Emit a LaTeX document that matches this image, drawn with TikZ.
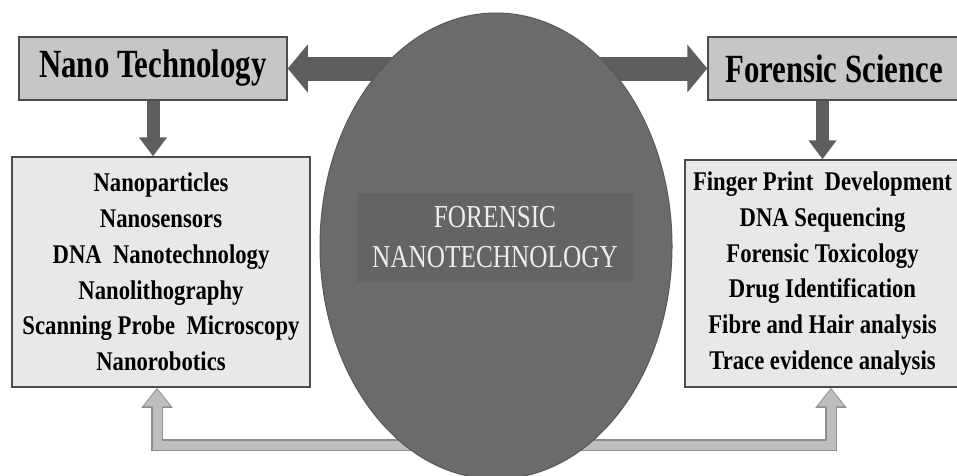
\documentclass[tikz,border=0pt]{standalone}
\usepackage{fontspec}
\setmainfont{Liberation Serif}
\newfontfamily\hdfont[FakeStretch=0.77]{Liberation Serif}
\newfontfamily\lsfont[FakeStretch=0.84]{Liberation Serif}
\newfontfamily\ctfont[FakeStretch=0.79]{Liberation Serif}
\usetikzlibrary{arrows.meta,shapes.geometric}
\definecolor{hdfill}{HTML}{C6C6C6}
\definecolor{lsfill}{HTML}{E8E8E8}
\definecolor{bordc}{HTML}{4C4C4C}
\definecolor{ellc}{HTML}{6B6B6B}
\definecolor{ellbord}{HTML}{585858}
\definecolor{rectc}{HTML}{646464}
\definecolor{darr}{HTML}{5E5E5E}
\definecolor{larrfill}{HTML}{BEBEBE}
\definecolor{larrbord}{HTML}{8E8E8E}
\definecolor{ctext}{HTML}{EDEDED}
\begin{document}
\begin{tikzpicture}[x=1pt,y=-1pt,
  hdbox/.style={draw=bordc, line width=1.5pt, fill=hdfill, inner sep=0pt,
    font={\hdfont\bfseries\fontsize{40}{44}\selectfont}},
  lsbox/.style={draw=bordc, line width=1.5pt, fill=lsfill, inner sep=0pt, align=center,
    font={\lsfont\bfseries\fontsize{27}{35.8}\selectfont}},
  bigarrow/.style={draw=darr, line width=24pt, -{Triangle[length=20pt,width=47pt]}},
  downarrow/.style={draw=darr, line width=13pt, -{Triangle[length=19pt,width=27pt]}},
  larrouter/.style={draw=larrbord, line width=12pt,
    {Triangle[length=20pt,width=30pt]}-{Triangle[length=20pt,width=30pt]}},
  larrinner/.style={draw=larrfill, line width=9pt,
    {Triangle[length=17pt,width=25.5pt]}-{Triangle[length=17pt,width=25.5pt]},
    shorten <=1.6pt, shorten >=1.6pt},
  ellstyle/.style={ellipse, fill=ellc, draw=ellbord, line width=1pt, inner sep=0pt,
    minimum width=352pt, minimum height=466pt},
  ctrect/.style={fill=rectc, inner sep=0pt, minimum width=276pt, minimum height=89pt},
  cttext/.style={text=ctext, align=center, inner sep=0pt,
    font={\ctfont\fontsize{32}{40}\selectfont}}
]
\useasboundingbox (0,0) rectangle (957,475);
\fill[white] (0,0) rectangle (957,475);

% boxes
\node[hdbox, minimum width=268pt, minimum height=63pt] (nano) at (153,68.5) {Nano Technology};
\node[hdbox, minimum width=252pt, minimum height=63pt] (fs) at (834,68.5) {Forensic Science};
\node[lsbox, minimum width=298pt, minimum height=230pt] (lbox) at (161,272)
  {Nanoparticles\\Nanosensors\\DNA\ \ Nanotechnology\\Nanolithography\\Scanning Probe\ \ Microscopy\\Nanorobotics};
\node[lsbox, minimum width=275pt, minimum height=227pt] (rbox) at (822.5,273.5)
  {Finger Print\ \ Development\\DNA Sequencing\\Forensic Toxicology\\Drug Identification\\Fibre and Hair analysis\\Trace evidence analysis};

% ellipse centre and bottom connector corners
\coordinate (ec) at (496,246);
\coordinate (bl) at (157,445);
\coordinate (br) at (831,445);

% bottom light connector (behind ellipse)
\draw[larrouter] (lbox.south -| bl) -- (bl) -- (br) -- (rbox.south -| br);
\draw[larrinner] (lbox.south -| bl) -- (bl) -- (br) -- (rbox.south -| br);

% top dark arrows (start behind ellipse)
\draw[bigarrow] (ec |- nano.east) -- (nano.east);
\draw[bigarrow] (ec |- fs.west) -- (fs.west);

% down arrows
\draw[downarrow] (nano.south) -- (nano.south |- lbox.north);
\draw[downarrow] (fs.south -| rbox.north) -- (rbox.north);

% central ellipse
\node[ellstyle] (ell) at (ec) {};
\node[ctrect] (crect) at (495,237.5) {};
\node[cttext] (ctxt) at (crect.center) {FORENSIC\\NANOTECHNOLOGY};
\end{tikzpicture}
\end{document}
